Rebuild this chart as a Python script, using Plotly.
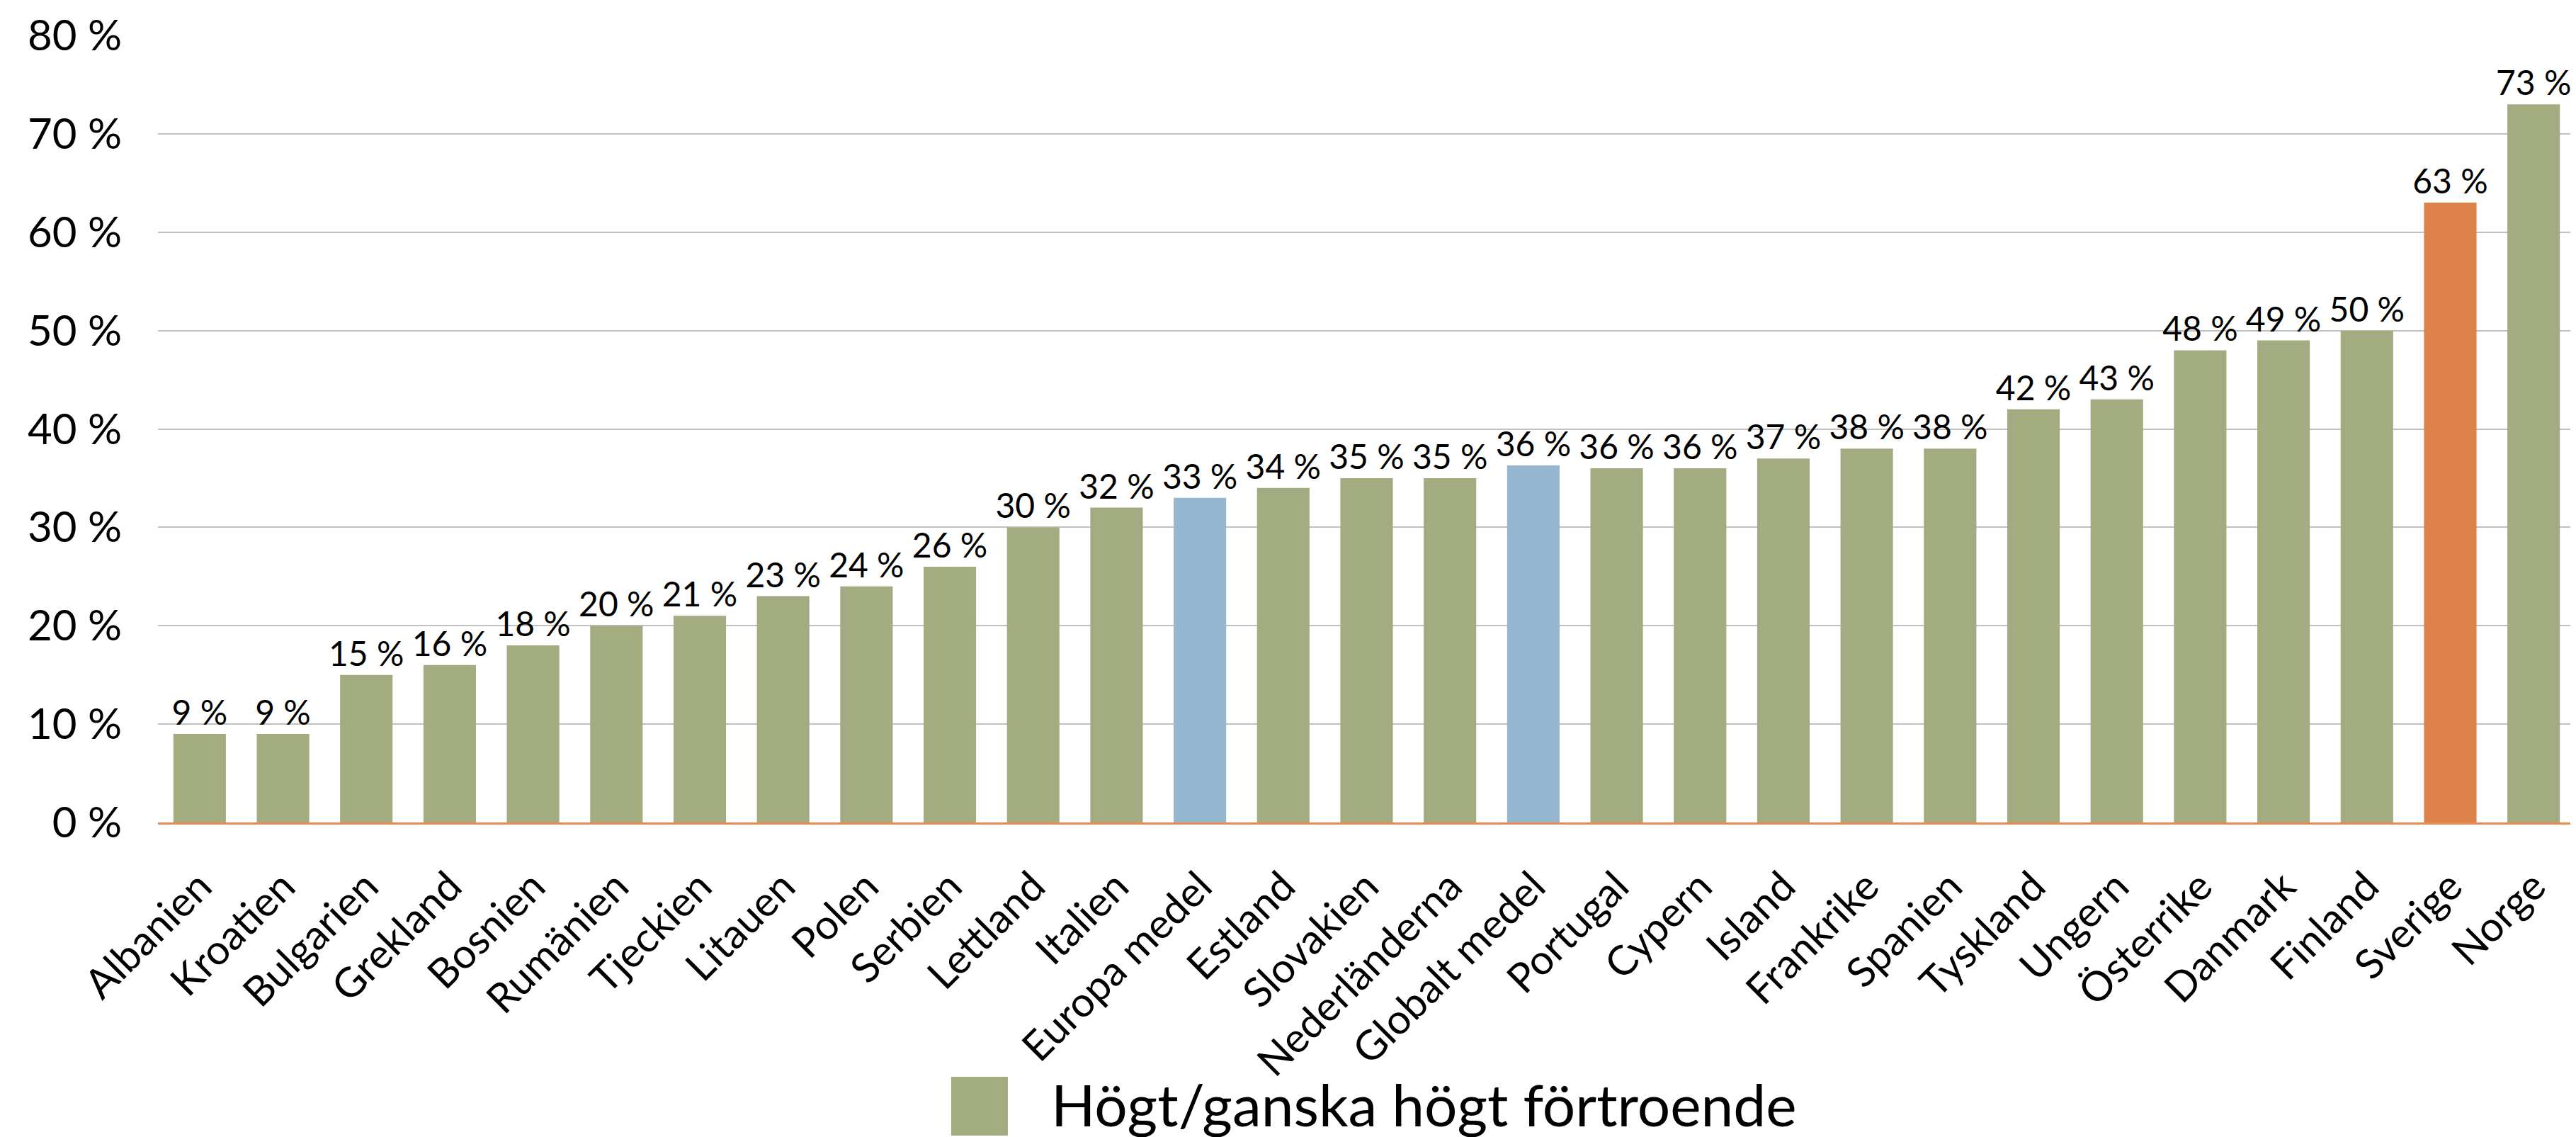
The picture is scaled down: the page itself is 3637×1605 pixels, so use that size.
import plotly.graph_objects as go

categories = ["Albanien", "Kroatien", "Bulgarien", "Grekland", "Bosnien", "Rumänien", "Tjeckien",
              "Litauen", "Polen", "Serbien", "Lettland", "Italien", "Europa medel", "Estland",
              "Slovakien", "Nederländerna", "Globalt medel", "Portugal", "Cypern", "Island",
              "Frankrike", "Spanien", "Tyskland", "Ungern", "Österrike", "Danmark", "Finland",
              "Sverige", "Norge"]
values = [9, 9, 15, 16, 18, 20, 21, 23, 24, 26, 30, 32, 33, 34, 35, 35, 36.3, 36, 36, 37,
          38, 38, 42, 43, 48, 49, 50, 63, 73]
series_name = "Högt/ganska högt förtroende"
y_ticks = [0, 10, 20, 30, 40, 50, 60, 70, 80]
y_tick_labels = ["0 %", "10 %", "20 %", "30 %", "40 %", "50 %", "60 %", "70 %", "80 %"]

GREEN = "#A3AC80"
BLUE = "#97B6CF"
ORANGE = "#DC824A"
highlight = {"Europa medel": BLUE, "Globalt medel": BLUE, "Sverige": ORANGE}
colors = [highlight.get(c, GREEN) for c in categories]

FONT = "Lato, 'Open Sans', sans-serif"

fig = go.Figure(go.Bar(
    x=categories, y=values, name=series_name,
    marker=dict(color=colors, line=dict(width=0)),
    texttemplate="%{y:.0f} %", textposition="outside",
    textfont=dict(family=FONT, size=48, color="black"),
    constraintext="none",
    cliponaxis=False, showlegend=False,
))

W, H = 3637, 1605
L, R, T, B = 215, 9, 42, 452
pw, ph = W - L - R, H - T - B

def px_to_paper_x(px):
    return (px - L) / pw

def px_to_paper_y(py):
    return (H - B - py) / ph

fig.add_shape(type="rect", xref="paper", yref="paper",
              x0=px_to_paper_x(1335), x1=px_to_paper_x(1415),
              y0=px_to_paper_y(1595), y1=px_to_paper_y(1512),
              fillcolor=GREEN, line=dict(width=0))
fig.add_annotation(text=series_name, xref="paper", yref="paper",
                   x=px_to_paper_x(1474), y=px_to_paper_y(1550),
                   xanchor="left", yanchor="middle", showarrow=False,
                   font=dict(family=FONT, size=82, color="black"))

fig.update_layout(
    width=W, height=H,
    margin=dict(l=L, r=R, t=T, b=B, pad=0),
    paper_bgcolor="white", plot_bgcolor="white",
    bargap=0.37,
    font=dict(family=FONT, color="black"),
    xaxis=dict(
        tickangle=-45, tickfont=dict(family=FONT, size=58, color="black"),
        showgrid=False, showline=True, linecolor="#E58C55", linewidth=3,
        ticks="", ticklabelstandoff=30, layer="above traces", automargin=False,
    ),
    yaxis=dict(
        range=[0, 80], tickvals=y_ticks, ticktext=y_tick_labels,
        tickfont=dict(family=FONT, size=60, color="black"),
        showgrid=True, gridcolor="#C0C0C0", gridwidth=2,
        zeroline=False, showline=False, ticks="", ticklabelstandoff=50,
        automargin=False,
    ),
)

fig.write_html("out.html")
